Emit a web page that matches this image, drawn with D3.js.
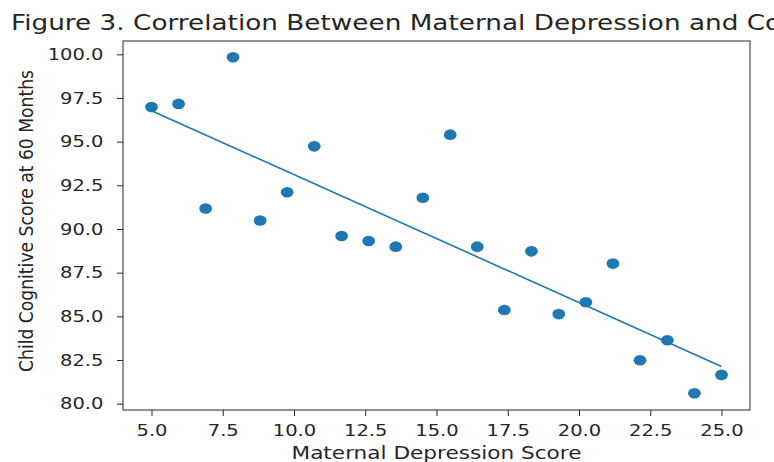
<!DOCTYPE html>
<html>
<head>
<meta charset="utf-8">
<script src="https://cdn.jsdelivr.net/npm/d3@7"></script>
<style>
  html, body { margin: 0; padding: 0; background: #fff; }
  svg { display: block; font-family: "DejaVu Sans", sans-serif; }
</style>
</head>
<body>
<div id="chart"></div>
<script>
// values
const depressionScores = [5.0, 5.95, 6.9, 7.86, 8.81, 9.76, 10.71, 11.67, 12.62, 13.57, 14.52,
                          15.48, 16.43, 17.38, 18.33, 19.29, 20.24, 21.19, 22.14, 23.1, 24.05, 25.0];
const cognitiveScores = [96.98, 97.16, 91.17, 99.83, 90.49, 92.1, 94.73, 89.6, 89.31, 88.99, 91.79,
                         95.4, 88.99, 85.36, 88.72, 85.13, 85.81, 88.02, 82.49, 83.63, 80.6, 81.65];
const xTicks = [5, 7.5, 10, 12.5, 15, 17.5, 20, 22.5, 25];
const yTicks = [80, 82.5, 85, 87.5, 90, 92.5, 95, 97.5, 100];
const titleText = "Figure 3. Correlation Between Maternal Depression and Cognitive Development";
const xLabel = "Maternal Depression Score";
const yLabel = "Child Cognitive Score at 60 Months";

const width = 774, height = 462;
const margin = {top: 41, right: 24, bottom: 52, left: 123};
const stretch = 1.22;  // picture is wider than tall
const blue = "#1f77b4";
const ink = "#262626";

const svg = d3.select("#chart").append("svg")
    .attr("width", width)
    .attr("height", height);

const x = d3.scaleLinear().domain([4, 26]).range([margin.left, width - margin.right]);
const y = d3.scaleLinear().domain([79.64, 100.76]).range([height - margin.bottom, margin.top]);

// title (left-aligned, runs off the right edge as in the picture)
svg.append("text")
    .attr("transform", "translate(11,30) scale(1.283,1)")
    .style("font-size", "20.5px")
    .attr("fill", ink)
    .text(titleText);

// axes
const xAxis = svg.append("g")
    .attr("transform", `translate(0,${height - margin.bottom})`)
    .call(d3.axisBottom(x).tickValues(xTicks).tickFormat(d3.format(".1f")).tickSize(6).tickPadding(6));

const yAxis = svg.append("g")
    .attr("transform", `translate(${margin.left},0)`)
    .call(d3.axisLeft(y).tickValues(yTicks).tickFormat(d3.format(".1f")).tickSize(6).tickPadding(10));

[xAxis, yAxis].forEach(g => {
    g.select(".domain").remove();
    g.selectAll(".tick line").attr("stroke", ink);
    g.selectAll(".tick text")
        .attr("fill", ink)
        .style("font-size", "16px")
        .style("font-family", "DejaVu Sans, sans-serif")
        .attr("transform", `scale(${stretch},1)`);
});
xAxis.selectAll(".tick text").attr("dy", "0.85em");

// frame
svg.append("rect")
    .attr("x", margin.left)
    .attr("y", margin.top)
    .attr("width", width - margin.left - margin.right)
    .attr("height", height - margin.top - margin.bottom)
    .attr("fill", "none")
    .attr("stroke", ink)
    .attr("stroke-width", 1);

// axis labels
svg.append("text")
    .attr("transform", `translate(${(margin.left + width - margin.right) / 2},459)`)
    .attr("text-anchor", "middle")
    .attr("textLength", 290)
    .attr("lengthAdjust", "spacingAndGlyphs")
    .style("font-size", "17px")
    .attr("fill", ink)
    .text(xLabel);

svg.append("text")
    .attr("transform", "translate(33,221) rotate(-90) scale(1,1.12)")
    .attr("text-anchor", "middle")
    .attr("textLength", 302)
    .attr("lengthAdjust", "spacingAndGlyphs")
    .style("font-size", "17px")
    .attr("fill", ink)
    .text(yLabel);

// points
const pts = depressionScores.map((d, i) => ({x: d, y: cognitiveScores[i]}));

svg.append("g")
    .selectAll("ellipse")
    .data(pts)
    .join("ellipse")
    .attr("cx", d => x(d.x))
    .attr("cy", d => y(d.y))
    .attr("rx", 6.4)
    .attr("ry", 5.3)
    .attr("fill", blue);

// least squares fit
const mx = d3.mean(depressionScores), my = d3.mean(cognitiveScores);
const slope = d3.sum(pts, d => (d.x - mx) * (d.y - my)) / d3.sum(pts, d => (d.x - mx) ** 2);
const icept = my - slope * mx;
const ext = d3.extent(depressionScores);
const fit = ext.map(v => ({x: v, y: icept + slope * v}));

svg.append("path")
    .datum(fit)
    .attr("fill", "none")
    .attr("stroke", blue)
    .attr("stroke-width", 1.6)
    .attr("d", d3.line().x(d => x(d.x)).y(d => y(d.y)));
</script>
</body>
</html>
